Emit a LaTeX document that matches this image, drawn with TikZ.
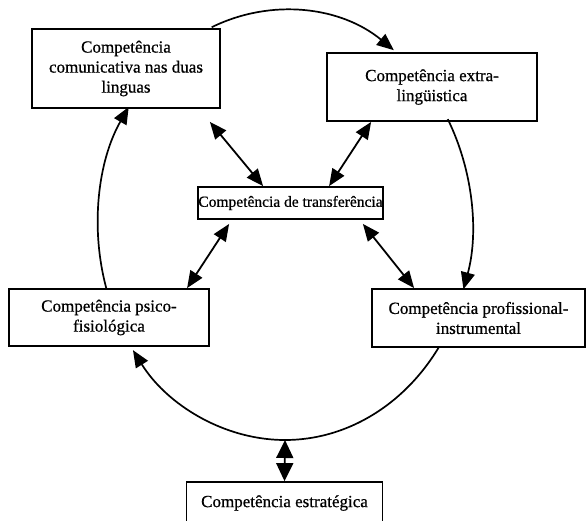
\documentclass[tikz,border=0pt]{standalone}
\usepackage{fontspec}
\setmainfont{Liberation Serif}
\newfontfamily\heavyserif{Liberation Serif}[FakeBold=0.7]
\usetikzlibrary{arrows.meta,calc}

\tikzset{
  compbox/.style={draw, line width=1.8pt, rectangle, align=center, inner sep=2pt,
    font=\heavyserif\fontsize{17}{20}\selectfont},
  bigtip/.tip={Triangle[length=17pt,width=14pt]},
  tipA/.style={-bigtip},
  dbl/.style={line width=1.8pt, bigtip-bigtip},
  ring/.style={line width=1.7pt, tipA},
}

\begin{document}
\begin{tikzpicture}[x=1pt,y=1pt]
  \useasboundingbox (0,0) rectangle (586,-520);

  % the six competences
  \node[compbox, minimum width=188pt, minimum height=79pt] (comm) at (126,-68.5)
    {Competência\\comunicativa nas duas\\linguas};
  \node[compbox, minimum width=210pt, minimum height=68pt] (extra) at (432,-87)
    {Competência extra-\\lingüistica};
  \node[compbox, minimum width=185pt, minimum height=32pt, inner sep=0pt,
        font=\heavyserif\fontsize{15.5}{18}\selectfont] (transf) at (290.5,-203)
    {Competência de transferência};
  \node[compbox, minimum width=200pt, minimum height=57pt] (psico) at (109,-317.5)
    {Competência psico-\\fisiológica};
  \node[compbox, minimum width=213pt, minimum height=58pt] (prof) at (478.5,-318)
    {Competência profissional-\\instrumental};
  \node[compbox, minimum width=196pt, minimum height=42pt] (estr) at (284.5,-503)
    {Competência estratégica};

  % the ring linking the outer competences
  \coordinate (ctr) at (285,-225);
  \coordinate (r1) at ($(ctr)+(113.1:187pt and 215pt)$);
  \coordinate (r2) at ($(ctr)+(29.5:187pt and 215pt)$);
  \coordinate (r3) at ($(ctr)+(-34.7:187pt and 215pt)$);
  \coordinate (r4) at ($(ctr)+(197.4:187pt and 215pt)$);
  \coordinate (bot) at ($(ctr)+(-90:187pt and 215pt)$);

  \draw[ring] (r1) arc[start angle=113.1, end angle=54.4, x radius=187pt, y radius=215pt];
  \draw[ring] (r2) arc[start angle=29.5, end angle=-17.4, x radius=187pt, y radius=215pt];
  \draw[ring] (r3) arc[start angle=-34.7, end angle=-144.4, x radius=187pt, y radius=215pt];
  \draw[ring] (r4) arc[start angle=197.4, end angle=146.7, x radius=187pt, y radius=215pt];

  % exchanges with the transfer competence
  \draw[dbl] ($(comm.south east)+(-11,-13)$) -- ($(transf.north west)+(66,0)$);
  \draw[dbl] ($(extra.south west)+(45,0)$) -- ($(transf.north west)+(132,0)$);
  \draw[dbl] ($(transf.south west)+(32,-4)$) -- ($(psico.north west)+(179,0)$);
  \draw[dbl] ($(transf.south east)+(-21,-4)$) -- ($(prof.north west)+(43,0)$);

  % strategic competence acting on the whole ring
  \draw[line width=1.8pt, {Triangle[length=18pt,width=17pt]}-{Triangle[length=18pt,width=17pt]}]
    (bot) -- (estr.north);
\end{tikzpicture}
\end{document}
